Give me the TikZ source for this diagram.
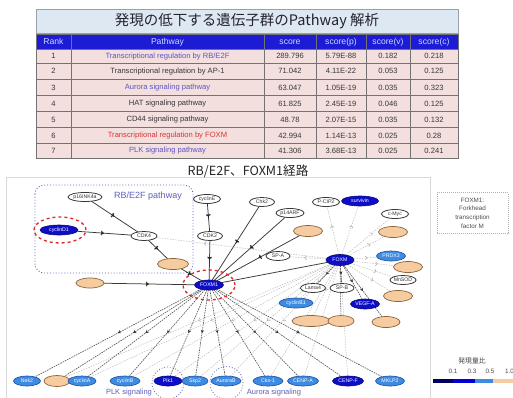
\documentclass[tikz,border=0pt]{standalone}
\usepackage{fontspec}
\setmainfont{Liberation Sans}
\newfontfamily\cjk{Noto Sans CJK JP}
\usetikzlibrary{shapes.geometric,arrows.meta,decorations.markings}
\definecolor{hdrblue}{RGB}{28,28,212}
\definecolor{hdrtext}{RGB}{205,215,255}
\definecolor{rowpink}{RGB}{243,223,222}
\definecolor{titlebg}{RGB}{222,232,243}
\definecolor{titleedge}{RGB}{150,160,175}
\definecolor{titletxt}{RGB}{35,35,45}
\definecolor{linkblue}{RGB}{95,85,195}
\definecolor{linkred}{RGB}{215,55,55}
\definecolor{rowtxt}{RGB}{55,55,55}
\definecolor{darkblue}{RGB}{14,14,200}
\definecolor{navyedge}{RGB}{10,10,120}
\definecolor{midblue}{RGB}{62,140,226}
\definecolor{midedge}{RGB}{30,75,160}
\definecolor{peach}{RGB}{246,203,160}
\definecolor{peachedge}{RGB}{140,100,60}
\definecolor{navy}{RGB}{0,0,100}
\definecolor{barblue}{RGB}{0,0,215}
\definecolor{groupblue}{RGB}{95,95,185}
\definecolor{ringred}{RGB}{220,40,40}
\pgfdeclarelayer{bg}
\pgfdeclarelayer{edges}
\pgfsetlayers{bg,edges,main}
\begin{document}
\begin{tikzpicture}[x=1pt,y=-1pt,
  every node/.style={inner sep=0pt,outer sep=0pt},
  gnode/.style={ellipse,font=\fontsize{5.2}{6}\selectfont,line width=0.6pt},
  sz/.style 2 args={minimum width=#1pt,minimum height=#2pt},
  wn/.style={gnode,draw=black!78,fill=white,text=black!80,line width=0.8pt},
  dn/.style={gnode,draw=navyedge,fill=darkblue,text=white},
  mn/.style={gnode,draw=midedge,fill=midblue,text=white},
  pn/.style={gnode,draw=peachedge,fill=peach,line width=0.7pt},
  cell/.style={font=\fontsize{7.6}{8}\selectfont,text=rowtxt},
  hcell/.style={font=\fontsize{8.6}{9}\selectfont,text=hdrtext},
  solidln/.style={draw=black!78,line width=0.75pt,postaction={decorate},
    decoration={markings,mark=at position 0.5 with {\arrow[black!85]{Stealth[length=3.5pt,width=3.8pt]}\draw[black!85,line width=0.75pt,solid] (-2.5pt,-2.3pt)--(-2.5pt,2.3pt);}}},
  darkdash/.style={draw=black!68,line width=0.6pt,dash pattern=on 1.6pt off 0.9pt,postaction={decorate},
    decoration={markings,mark=at position 0.5 with {\arrow[black!80]{Stealth[length=3pt,width=3.4pt]}}}},
  lightdash/.style={draw=black!28,line width=0.45pt,dash pattern=on 1.5pt off 1.2pt,postaction={decorate},
    decoration={markings,mark=at position #1 with {\arrow[black!35]{Straight Barb[length=2pt,width=4pt]}}}},
  lightdash/.default=0.6,
  ]
\useasboundingbox (0,0) rectangle (513,397);
\begin{pgfonlayer}{bg}
\fill[white] (0,0) rectangle (513,397);
\draw[black!15,line width=0.7pt] (6,400) -- (6,177) -- (430,177) -- (430,400);
\draw[groupblue,dotted,line width=0.9pt,rounded corners=9pt] (35,185) rectangle (193,273);
\end{pgfonlayer}

% title and table
\node[draw=titleedge,fill=titlebg,line width=0.8pt,minimum width=422pt,minimum height=24pt,
      font=\cjk\fontsize{14.5}{15}\selectfont,text=titletxt] (title) at (247,21) {発現の低下する遺伝子群のPathway 解析};
\fill[rowpink] (36,49.3) rectangle (458,158.3);
\fill[hdrblue] (36,34) rectangle (458,49.3);
\foreach \yy in {49.3,63.3,79.3,95.7,111.7,127.7,143.3} \draw[black!55,line width=0.5pt] (36,\yy) -- (458,\yy);
\foreach \xx in {71,264,316,366,410} \draw[black!55,line width=0.5pt] (\xx,34) -- (\xx,158.3);
\draw[black!55,line width=0.6pt] (36,34) rectangle (458,158.3);
\node[hcell] (h1) at (53.5,41.8) {Rank};
\node[hcell] (h2) at (167.5,41.8) {Pathway};
\node[hcell] (h3) at (290,41.8) {score};
\node[hcell] (h4) at (341,41.8) {score(p)};
\node[hcell] (h5) at (388,41.8) {score(v)};
\node[hcell] (h6) at (434,41.8) {score(c)};
\foreach \i/\yy/\pw/\sa/\sb/\sc/\sd/\cl in {
  1/56.3/{Transcriptional regulation by RB/E2F}/289.796/5.79E-88/0.182/0.218/linkblue,
  2/71.3/{Transcriptional regulation by AP-1}/71.042/4.11E-22/0.053/0.125/rowtxt,
  3/87.5/{Aurora signaling pathway}/63.047/1.05E-19/0.035/0.323/linkblue,
  4/103.7/{HAT signaling pathway}/61.825/2.45E-19/0.046/0.125/rowtxt,
  5/119.7/{CD44 signaling pathway}/48.78/2.07E-15/0.035/0.132/rowtxt,
  6/135.5/{Transcriptional regulation by FOXM}/42.994/1.14E-13/0.025/0.28/linkred,
  7/150.8/{PLK signaling pathway}/41.306/3.68E-13/0.025/0.241/linkblue}
{
  \node[cell] (rk\i) at (53.5,\yy) {\i};
  \node[cell,text=\cl] (pw\i) at (167.5,\yy) {\pw};
  \node[cell] (sa\i) at (290,\yy) {\sa};
  \node[cell] (sb\i) at (341,\yy) {\sb};
  \node[cell] (sc\i) at (388,\yy) {\sc};
  \node[cell] (sd\i) at (434,\yy) {\sd};
}
\node[font=\cjk\fontsize{12.6}{13}\selectfont,text=black!85] (sub) at (248,171) {RB/E2F、FOXM1経路};

% group labels
\node[font=\fontsize{9}{10}\selectfont,text=groupblue] (rblbl) at (148,196) {RB/E2F pathway};
\node[font=\fontsize{7.5}{8}\selectfont,text=groupblue] (plklbl) at (129,393) {PLK signaling};
\node[font=\fontsize{7.5}{8}\selectfont,text=groupblue] (aurlbl) at (274,393) {Aurora signaling};

% nodes
\node[wn,sz={34}{9}] (p16) at (85,197) {p16INK4a};
\node[dn,sz={38}{10}] (cycD1) at (59,230) {cyclinD1};
\node[wn,sz={26}{9}] (cdk4) at (144,236) {CDK4};
\node[pn,sz={31}{11}] (rb) at (173,264) {};
\node[pn,sz={28}{10}] (pk1) at (90,283) {};
\node[dn,sz={29}{10}] (foxm1) at (209,285) {FOXM1};
\node[wn,sz={27}{9}] (cycE) at (207,199) {cyclinE};
\node[wn,sz={25}{9}] (cdk2) at (210,236) {CDK2};
\node[wn,sz={25}{9}] (chk2) at (262,202) {Chk2};
\node[wn,sz={28}{9}] (p14) at (290,213) {p14ARF};
\node[pn,sz={29}{11}] (pk2) at (308,231) {};
\node[wn,sz={24}{9}] (spa) at (278,256) {SP-A};
\node[dn,sz={28}{11}] (foxm) at (340,260) {FOXM};
\node[wn,sz={27}{9}] (pcip) at (326,202) {P-CIP2};
\node[dn,sz={37}{10}] (surv) at (360,201) {survivin};
\node[wn,sz={27}{9}] (cmyc) at (395,214) {c-Myc};
\node[pn,sz={29}{11}] (pk3) at (393,232) {};
\node[mn,sz={29}{10}] (prdx) at (391,256) {PRDX3};
\node[pn,sz={29}{11}] (pk4) at (408,267) {};
\node[wn,sz={26}{9}] (mnsod) at (403,280) {MnSOD};
\node[pn,sz={29}{11}] (pk5) at (398,296) {};
\node[wn,sz={25}{9}] (lama) at (313,288) {Lama4};
\node[wn,sz={24}{9}] (spb) at (342,288) {SP-B};
\node[dn,sz={29}{10}] (vegf) at (365,304) {VEGF-A};
\node[mn,sz={34}{10}] (cycB1) at (296,303) {cyclinB1};
\node[pn,sz={38}{11}] (pk6) at (311,321) {};
\node[pn,sz={26}{11}] (pk7) at (341,321) {};
\node[pn,sz={28}{11}] (pk8) at (386,322) {};
\node[mn,sz={27}{10}] (nek2) at (27,381) {Nek2};
\node[pn,sz={26}{11}] (pk9) at (57,381) {};
\node[mn,sz={28}{10}] (cycA) at (82,381) {cyclinA};
\node[mn,sz={30}{10}] (cycB) at (125,381) {cyclinB};
\node[dn,sz={28}{10}] (plk1) at (168,381) {Plk1};
\node[mn,sz={26}{10}] (skp2) at (195,381) {Skp2};
\node[mn,sz={30}{10}] (aurB) at (226,381) {AuroraB};
\node[mn,sz={30}{10}] (cks1) at (268,381) {Cks-1};
\node[mn,sz={31}{10}] (cenpA) at (303,381) {CENP-A};
\node[dn,sz={31}{10}] (cenpF) at (348,381) {CENP-F};
\node[mn,sz={29}{10}] (mklp) at (390,381) {MKLP2};

% rings
\draw[ringred,dashed,line width=1.3pt] (60,230) ellipse [x radius=26pt,y radius=13pt];
\draw[ringred,dashed,line width=1.3pt] (209,285) ellipse [x radius=26pt,y radius=15pt];
\draw[groupblue,dotted,line width=0.8pt] (168,383) circle [radius=16pt];
\draw[groupblue,dotted,line width=0.8pt] (226.5,383) circle [radius=16.5pt];

% edges
\begin{pgfonlayer}{edges}
\draw[solidln] (p16) -- (cdk4);
\draw[solidln] (cycD1) -- (cdk4);
\draw[solidln] (cdk4) -- (rb);
\draw[solidln] (rb) -- (foxm1);
\draw[solidln] (pk1) -- (foxm1);
\draw[solidln] (cycE) -- (cdk2);
\draw[solidln] (cdk2) -- (foxm1);
\draw[solidln] (chk2) -- (foxm1);
\draw[solidln] (p14) -- (foxm1);
\draw[solidln] (pk2) -- (foxm1);
\draw[draw=black!78,line width=0.75pt] (foxm) -- (foxm1);
\draw[lightdash=0.72] (foxm) -- (cdk4);
\foreach \t in {spa,pcip,surv,cmyc,pk3,prdx,pk4,mnsod,pk5}
  \draw[lightdash] (foxm) -- (\t);
\foreach \t in {pk9,cycA,cycB,plk1,skp2,aurB,cks1,cenpA,cenpF,cycB1,pk6}
  \draw[lightdash=0.5] (foxm) -- (\t);
\foreach \t in {lama,spb,pk7,pk8,vegf}
  \draw[darkdash] (foxm) -- (\t);
\foreach \t in {nek2,pk9,cycA,cycB,plk1,skp2,aurB,cks1,cenpA,cenpF,mklp}
  \draw[darkdash] (foxm1) -- (\t);
\end{pgfonlayer}

% legend
\node[draw=black!30,dash pattern=on 1pt off 1pt,line width=0.5pt,minimum width=71pt,minimum height=41pt,
      align=center,font=\fontsize{6.3}{8.6}\selectfont,text=black!70] (legbox) at (472.5,213)
      {FOXM1:\\Forkhead\\transcription\\factor M};
\node[font=\cjk\fontsize{6.8}{7}\selectfont,text=black!75] (legttl) at (472,361) {発現量比};
\node[font=\fontsize{6.3}{7}\selectfont,text=black!70] (t1) at (453,371) {0.1};
\node[font=\fontsize{6.3}{7}\selectfont,text=black!70] (t3) at (472,371) {0.3};
\node[font=\fontsize{6.3}{7}\selectfont,text=black!70] (t5) at (490,371) {0.5};
\node[font=\fontsize{6.3}{7}\selectfont,text=black!70,anchor=west] (t10) at (505,371) {1.0};
\fill[navy] (433,379) rectangle (453,383);
\fill[barblue] (453,379) rectangle (475,383);
\fill[midblue] (475,379) rectangle (493,383);
\fill[peach] (493,379) rectangle (513,383);
\end{tikzpicture}
\end{document}
